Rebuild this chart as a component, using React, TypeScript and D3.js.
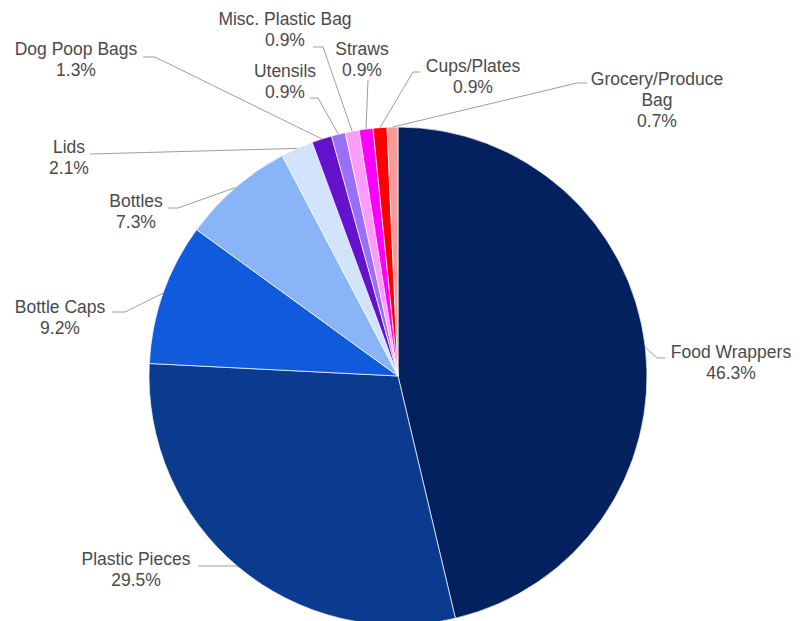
import React, { useEffect, useRef } from "react";
import * as d3 from "d3";

const categories = [
  "Food Wrappers",
  "Plastic Pieces",
  "Bottle Caps",
  "Bottles",
  "Lids",
  "Dog Poop Bags",
  "Utensils",
  "Misc. Plastic Bag",
  "Straws",
  "Cups/Plates",
  "Grocery/Produce Bag",
];
const shares = [46.3, 29.5, 9.2, 7.3, 2.1, 1.3, 0.9, 0.9, 0.9, 0.9, 0.7];
const colors = [
  "#03215e",
  "#0b3b8f",
  "#105bdb",
  "#8ab4f8",
  "#d2e3fc",
  "#6412cc",
  "#9b6ef6",
  "#fd9cfc",
  "#fc00fc",
  "#ff0000",
  "#f89a9a",
];

// label placement: text centre / first baseline, then the leader line bend and end
const labelLayout = [
  { lines: ["Food Wrappers"], x: 731, y: 358, bend: [657, 358], end: [665, 358] },
  { lines: ["Plastic Pieces"], x: 136, y: 565, bend: [236, 566], end: [198, 566] },
  { lines: ["Bottle Caps"], x: 60, y: 313, bend: [125, 312], end: [112, 312] },
  { lines: ["Bottles"], x: 136, y: 207, bend: [178, 208], end: [168, 208] },
  { lines: ["Lids"], x: 69, y: 153, bend: null, end: [90, 154] },
  { lines: ["Dog Poop Bags"], x: 76, y: 55, bend: [155, 57], end: [143, 57] },
  { lines: ["Utensils"], x: 285, y: 77, bend: [318, 98], end: [310, 98] },
  { lines: ["Misc. Plastic Bag"], x: 285, y: 25, bend: [323, 47], end: [313, 47] },
  { lines: ["Straws"], x: 362, y: 55, bend: null, end: [368, 80] },
  { lines: ["Cups/Plates"], x: 473, y: 72, bend: [413, 72], end: [420, 72] },
  { lines: ["Grocery/Produce", "Bag"], x: 657, y: 85, bend: [577, 83], end: [587, 83] },
];

const W = 802;
const H = 621;

function renderChart(el: SVGSVGElement) {
  const svg = d3.select(el);
  svg.selectAll("*").remove();

  const cx = 398;
  const cy = 376;
  const radius = 249;

  const data = categories.map((name, i) => ({ name, value: shares[i], color: colors[i] }));
  const pie = d3
    .pie<any>()
    .sort(null)
    .value((d) => d.value);
  const arcs = pie(data);

  const arc = d3.arc<any>().innerRadius(0).outerRadius(radius);
  const edge = d3.arc<any>().innerRadius(radius).outerRadius(radius);

  const g = svg.append("g").attr("transform", "translate(" + cx + "," + cy + ")");

  g.selectAll("path.slice")
    .data(arcs)
    .enter()
    .append("path")
    .attr("class", "slice")
    .attr("d", arc)
    .attr("fill", (d) => d.data.color)
    .attr("stroke", "#ffffff")
    .attr("stroke-width", 0.7);

  // leader lines
  const lineGen = d3.line();
  svg
    .selectAll("path.leader")
    .data(arcs)
    .enter()
    .append("path")
    .attr("class", "leader")
    .attr("d", (d, i) => {
      const c = edge.centroid(d);
      const lay = labelLayout[i];
      const pts: [number, number][] = [[cx + c[0], cy + c[1]]];
      if (lay.bend) pts.push(lay.bend as [number, number]);
      pts.push(lay.end as [number, number]);
      return lineGen(pts);
    })
    .attr("fill", "none")
    .attr("stroke", "#9e9e9e")
    .attr("stroke-width", 1);

  // labels
  const labels = svg
    .selectAll("text.label")
    .data(arcs)
    .enter()
    .append("text")
    .attr("class", "label")
    .attr("text-anchor", "middle")
    .attr("font-family", "'Liberation Sans', Arial, sans-serif")
    .attr("font-size", "17.5px")
    .attr("fill", "#4a4a4a");

  labels.each(function (d, i) {
    const lay = labelLayout[i];
    const t = d3.select(this);
    const rows = [...lay.lines, d.data.value.toFixed(1) + "%"];
    rows.forEach((row, k) => {
      t.append("tspan")
        .attr("x", lay.x)
        .attr("y", lay.y + k * 21)
        .text(row);
    });
  });
}

const App: React.FC = () => {
  const ref = useRef<SVGSVGElement>(null);
  useEffect(() => {
    document.body.style.margin = "0";
    if (ref.current) renderChart(ref.current);
  }, []);
  return (
    <svg
      ref={ref}
      width={W}
      height={H}
      style={{ display: "block", background: "#ffffff" }}
    />
  );
};

export default App;
